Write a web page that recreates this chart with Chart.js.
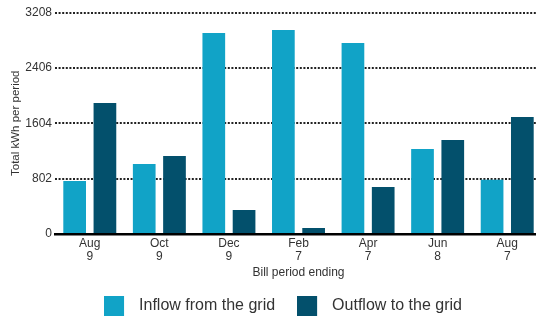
<!DOCTYPE html>
<html>
<head>
<meta charset="utf-8">
<script src="https://cdn.jsdelivr.net/npm/chart.js@4/dist/chart.umd.min.js"></script>
<style>
  html, body { margin: 0; padding: 0; background: #fff; overflow: hidden; width: 536px; height: 317px; }
  #wrap { width: 566px; height: 324px; }
</style>
</head>
<body>
<div id="wrap"><canvas id="c" width="566" height="324"></canvas></div>
<script>
const categories = [["Aug","9"],["Oct","9"],["Dec","9"],["Feb","7"],["Apr","7"],["Jun","8"],["Aug","7"]];
const inflow  = [768, 1014, 2912, 2956, 2768, 1232, 786];
const outflow = [1898, 1130, 348, 87, 681, 1362, 1695];
const yTicks  = [0, 802, 1604, 2406, 3208];
const seriesNames = ["Inflow from the grid", "Outflow to the grid"];

const colors = ["#11a3c7", "#03506c"];
const FONT = "'Liberation Sans', Arial, Helvetica, sans-serif";
const TEXT = "#333333";

function legendSwatch(color) {
  const c = document.createElement('canvas');
  c.width = 27; c.height = 20;
  const g = c.getContext('2d');
  g.fillStyle = color;
  g.fillRect(0, 0, 20, 20);
  return c;
}
const swatches = colors.map(legendSwatch);

new Chart(document.getElementById('c'), {
  type: 'bar',
  data: {
    labels: categories,
    datasets: [
      { label: seriesNames[0], data: inflow, backgroundColor: colors[0], categoryPercentage: 0.87, barPercentage: 0.75 },
      { label: seriesNames[1], data: outflow, backgroundColor: colors[1], categoryPercentage: 0.87, barPercentage: 0.75 }
    ]
  },
  options: {
    responsive: false,
    animation: false,
    devicePixelRatio: 1,
    layout: { padding: { top: 12.5, left: 0, right: 0, bottom: 0 } },
    plugins: {
      tooltip: { enabled: false },
      legend: {
        position: 'bottom',
        labels: {
          usePointStyle: true,
          pointStyleWidth: 27,
          padding: 22,
          color: TEXT,
          font: { family: FONT, size: 16 },
          generateLabels(chart) {
            const items = Chart.defaults.plugins.legend.labels.generateLabels(chart);
            items.forEach((it, i) => { it.pointStyle = swatches[i]; it.rotation = 0; });
            return items;
          }
        }
      }
    },
    scales: {
      x: {
        grid: { display: false, drawTicks: false },
        border: { display: true, color: '#000', width: 2.5 },
        ticks: { color: TEXT, padding: 2.5, font: { family: FONT, size: 12, lineHeight: 1.12 }, maxRotation: 0 },
        title: { display: true, text: 'Bill period ending', color: TEXT, font: { family: FONT, size: 12, lineHeight: 1 }, padding: { top: 0, bottom: -2.5 } },
        afterFit(s) { s.height = 42; }
      },
      y: {
        min: 0,
        max: yTicks[yTicks.length - 1],
        afterBuildTicks(s) { s.ticks = yTicks.map(v => ({ value: v })); },
        grid: { color: '#222', lineWidth: 2, drawTicks: false },
        border: { display: false, dash: [2, 1.6] },
        ticks: { color: TEXT, padding: 3, font: { family: FONT, size: 12 }, callback: v => String(v) },
        title: { display: true, text: 'Total kWh per period', color: TEXT, font: { family: FONT, size: 11.5, lineHeight: 1.2 }, padding: { top: 9, bottom: 0 } },
        afterFit(s) { s.width = 55; }
      },
      yRight: {
        type: 'linear',
        position: 'right',
        display: true,
        grid: { display: false, drawTicks: false },
        border: { display: false },
        ticks: { display: false },
        afterFit(s) { s.width = 24; }
      }
    }
  }
});
</script>
</body>
</html>
